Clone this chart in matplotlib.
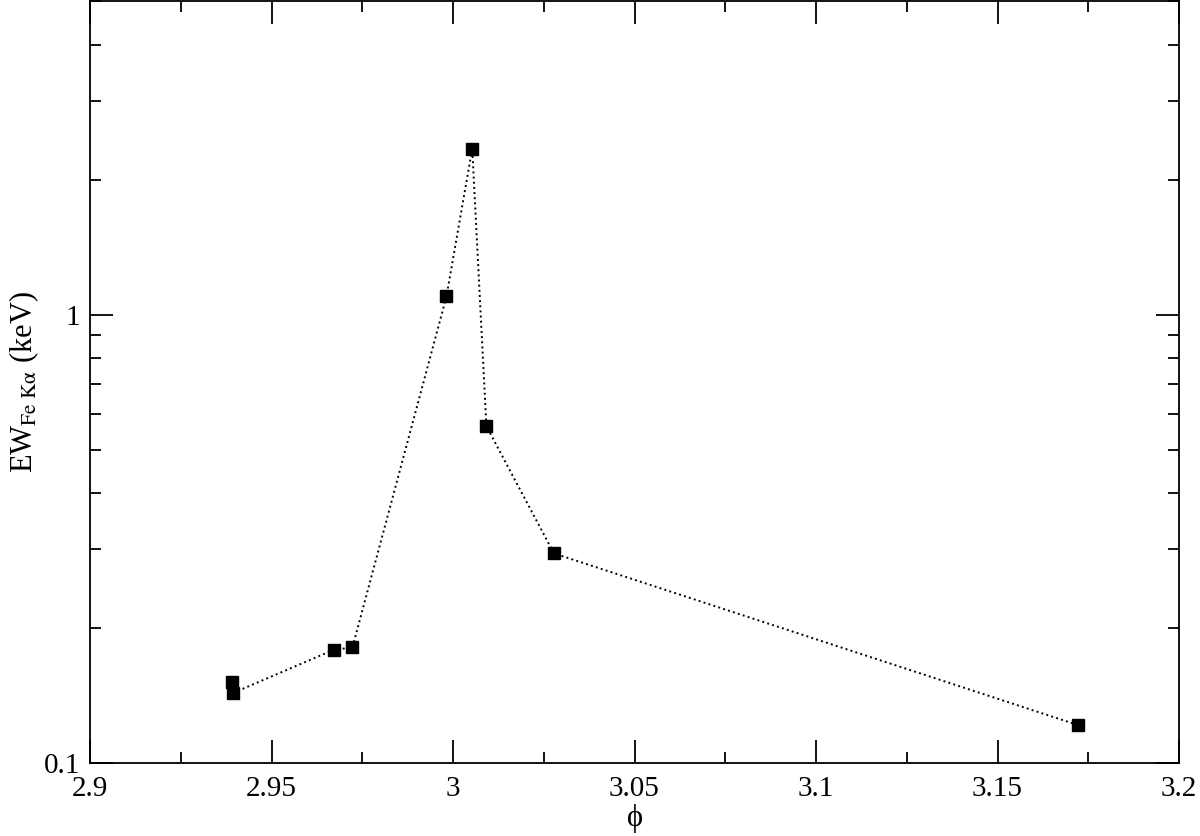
import matplotlib
matplotlib.use("Agg")
import matplotlib.pyplot as plt
from matplotlib.ticker import FixedLocator, LogLocator, FormatStrFormatter, NullFormatter, MultipleLocator

# phase and Fe K-alpha equivalent width (keV)
phase = [2.9390, 2.9395, 2.9671, 2.9723, 2.9982, 3.0053, 3.0092, 3.0278, 3.1722]
ew_fe = [0.1513, 0.1434, 0.1788, 0.1810, 1.098, 2.346, 0.564, 0.2935, 0.1215]

x_major = [2.9, 2.95, 3.0, 3.05, 3.1, 3.15, 3.2]
y_major = [0.1, 1.0]
y_major_labels = ["0.1", "1"]

plt.rcParams['font.family'] = ['Liberation Serif', 'DejaVu Serif']
plt.rcParams['mathtext.fontset'] = 'stix'

fig = plt.figure(figsize=(12, 8.36), dpi=100)
ax = fig.add_axes([0.075, 0.0873, 0.9075, 0.9112])

ax.plot(phase, ew_fe, color='black', linestyle=':', linewidth=1.4,
        marker='s', markersize=8.5, markerfacecolor='black',
        markeredgecolor='black')

ax.set_yscale('log')
ax.set_xlim(2.9, 3.2)
ax.set_ylim(0.1, 5.0)

ax.xaxis.set_major_locator(FixedLocator(x_major))
ax.xaxis.set_major_formatter(FormatStrFormatter('%g'))
ax.xaxis.set_minor_locator(MultipleLocator(0.025))

ax.yaxis.set_major_locator(FixedLocator(y_major))
ax.set_yticklabels(y_major_labels)
ax.yaxis.set_minor_locator(LogLocator(base=10, subs=range(2, 10)))
ax.yaxis.set_minor_formatter(NullFormatter())

ax.tick_params(which='both', direction='in', top=True, right=True,
               labelsize=21, width=1.3)
ax.tick_params(axis='x', pad=9)
ax.tick_params(axis='y', pad=7)
ax.tick_params(which='major', length=16.5)
ax.tick_params(which='minor', length=8)
for s in ax.spines.values():
    s.set_linewidth(1.3)

ax.set_xlabel('ϕ', fontsize=22, labelpad=2)
ax.set_ylabel(r'EW$_{\mathrm{Fe\ K\alpha}}$ (keV)', fontsize=22, labelpad=2)

fig.savefig('out.png', dpi=100)
